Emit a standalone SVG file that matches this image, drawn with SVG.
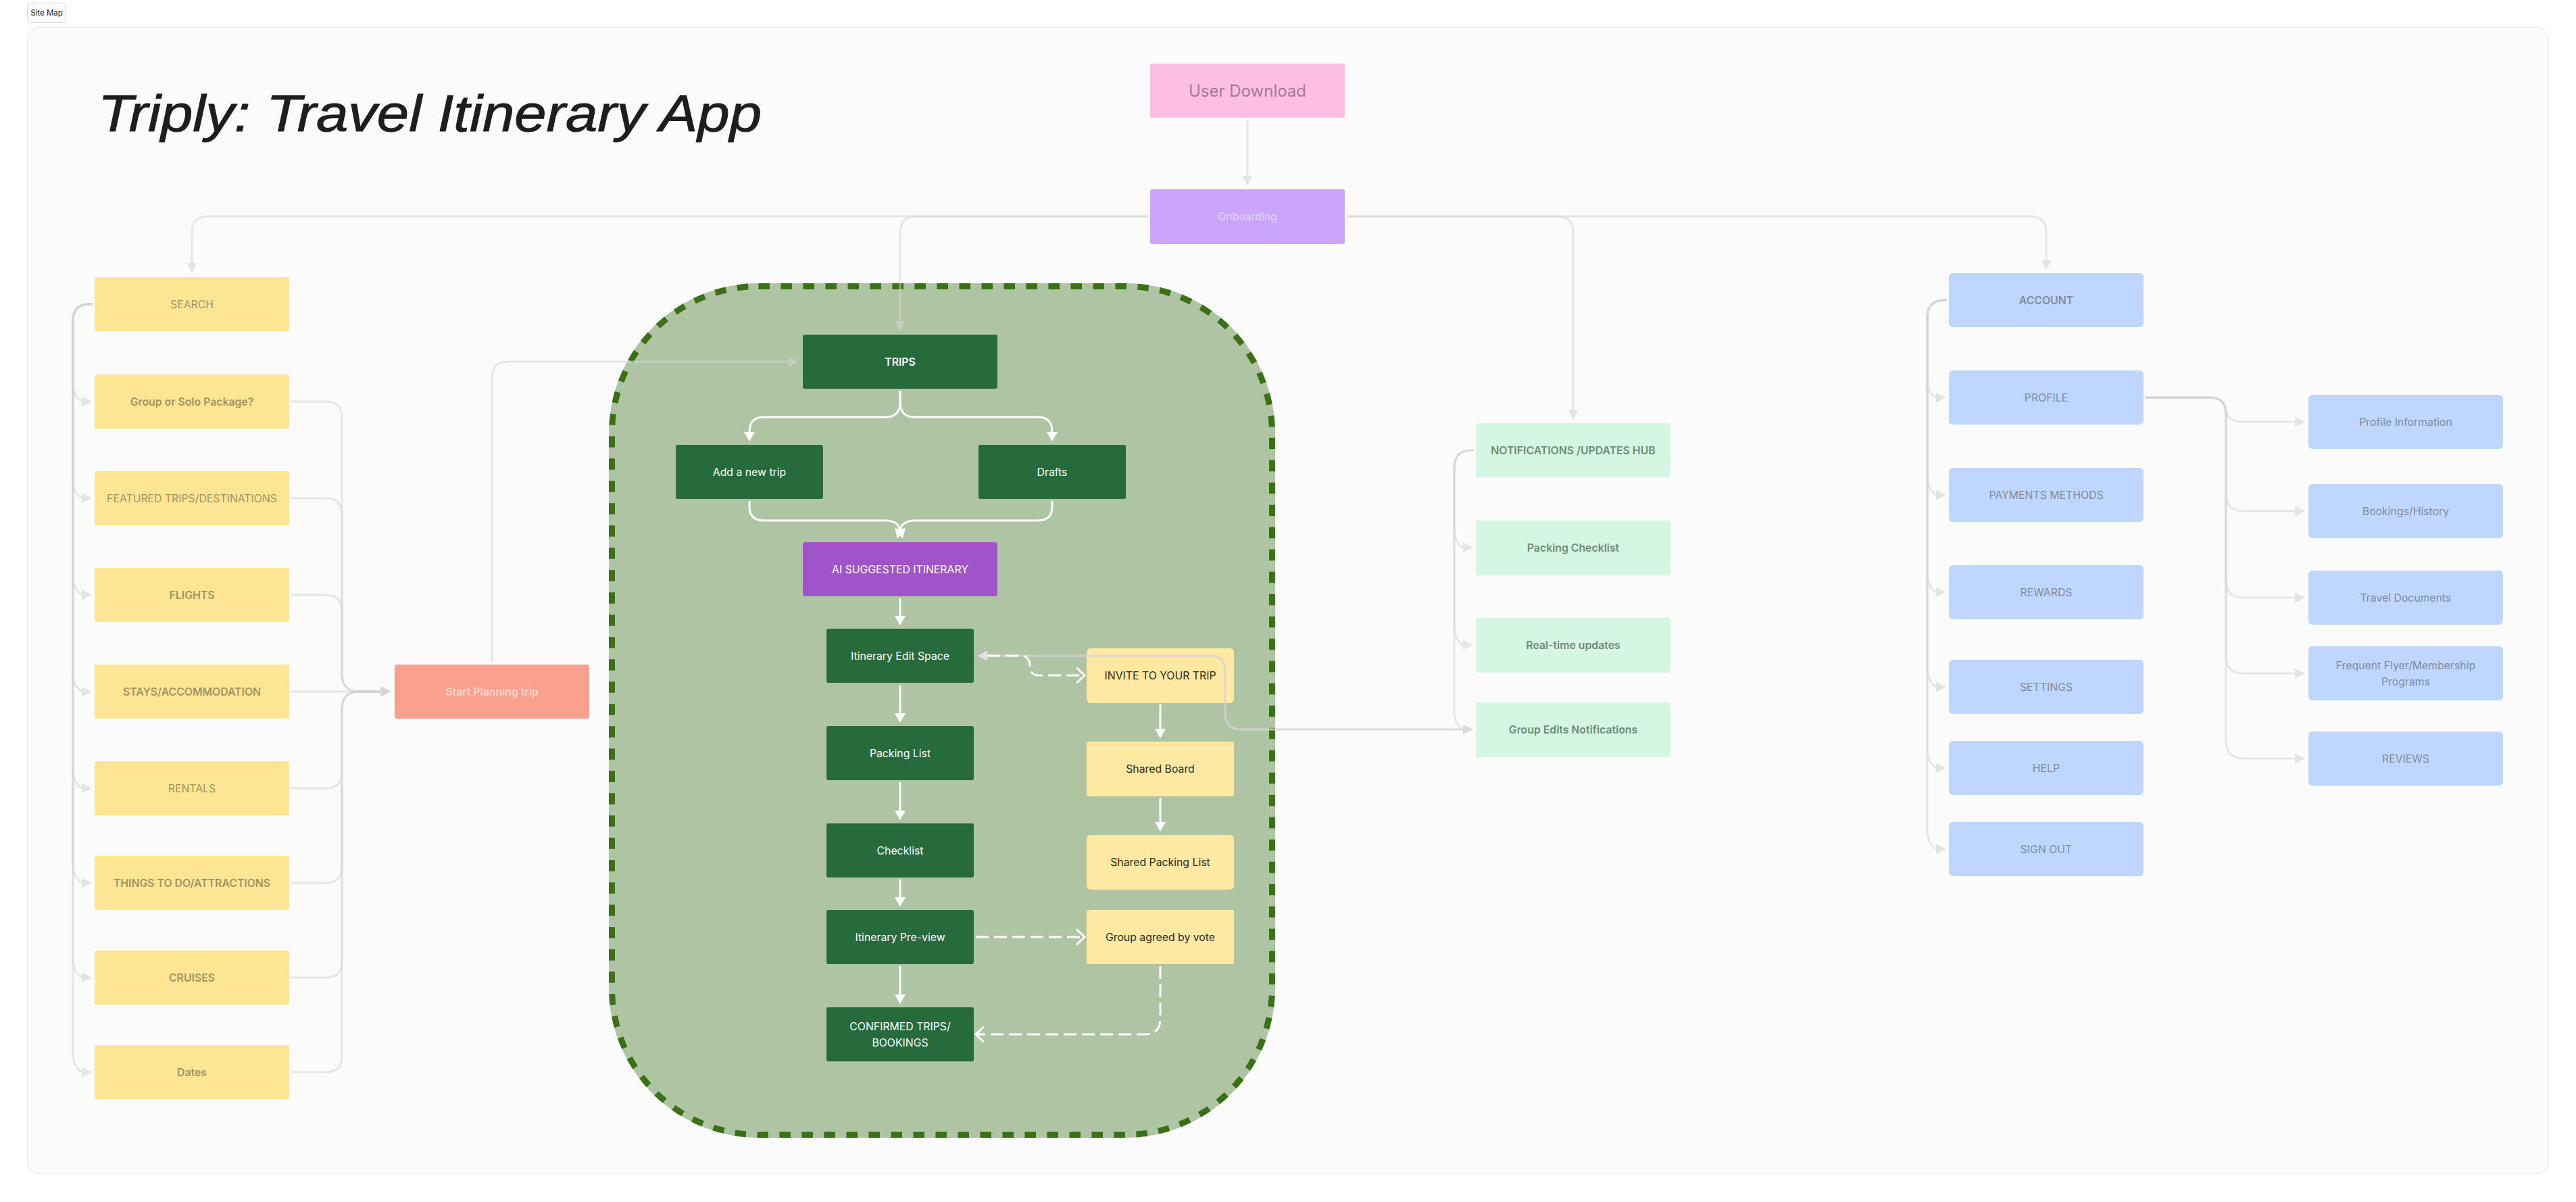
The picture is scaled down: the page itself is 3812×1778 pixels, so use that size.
<svg xmlns="http://www.w3.org/2000/svg" width="3812" height="1778" viewBox="0 0 3812 1778">
<style>
text{font-family:Inter,"Liberation Sans",sans-serif;font-size:15.8px;text-anchor:middle}
.s{font-weight:600}
.y rect{fill:#fde593}.y text{fill:#9f9562}
.b rect{fill:#bfd7fe}.b text{fill:#7f8b9d}
.m rect{fill:#d5f6e2}.m text{fill:#6f8a78}
.g rect{fill:#276a3c}.g text{fill:#fff}
.l rect{fill:#fee8a2}.l text{fill:#2b2b20}
.c path{fill:none}
.d{stroke:#d6d6d6;stroke-opacity:.55;stroke-width:3}
.w{stroke:#fff;stroke-width:3}
.h{stroke-dasharray:19 8}
</style>
<defs>
<marker id="ga" markerUnits="userSpaceOnUse" markerWidth="16" markerHeight="16" refX="0" refY="8" orient="auto"><path d="M0,0.5L15,8L0,15.5z" fill="#d6d6d6" fill-opacity=".6"/></marker>
<marker id="gr" markerUnits="userSpaceOnUse" markerWidth="16" markerHeight="16" refX="0" refY="8" orient="0"><path d="M0,0.5L15,8L0,15.5z" fill="#d6d6d6" fill-opacity=".6"/></marker>
<marker id="gl" markerUnits="userSpaceOnUse" markerWidth="16" markerHeight="16" refX="0" refY="8" orient="180"><path d="M0,0.5L15,8L0,15.5z" fill="#e2e2e2"/></marker>
<marker id="wa" markerUnits="userSpaceOnUse" markerWidth="16" markerHeight="18" refX="0" refY="9" orient="auto"><path d="M0,1L14,9L0,17z" fill="#fff"/></marker>
<marker id="wc" markerUnits="userSpaceOnUse" markerWidth="16" markerHeight="26" refX="13" refY="13" orient="auto"><path d="M2,2.5L13,13L2,23.5" fill="none" stroke="#fff" stroke-width="3" stroke-linecap="round"/></marker>
</defs>
<rect id="page" width="3812" height="1778" fill="#fff"/>
<rect id="frame" x="40.5" y="40.5" width="3731" height="1696" rx="18" fill="#fbfbfb" stroke="#e6e6e6"/>
<g id="site-map"><rect x="40.5" y="4.5" width="57" height="29" rx="4" fill="#fbfbfb" stroke="#d9d9d9"/><text x="69" y="23" style="font-size:11.5px" fill="#1e1e1e">Site Map</text></g>
<text id="title" x="145" y="194" textLength="982" lengthAdjust="spacingAndGlyphs" stroke="#1e1e1e" stroke-width="1" style="font-family:'Liberation Sans',sans-serif;font-size:76px;font-style:italic;text-anchor:start" fill="#1e1e1e">Triply: Travel Itinerary App</text>

<g id="trips-area"><rect x="901" y="419" width="986" height="1264" rx="222" fill="#afc4a2"/><rect x="905.5" y="423.5" width="977" height="1255" rx="217" fill="none" stroke="#3a7016" stroke-width="9" stroke-dasharray="16.5 16.5"/></g>

<g id="user-download"><rect x="1702" y="94" width="288" height="80" rx="3" fill="#fcbfe3"/><text x="1846" y="143" style="font-size:24px" fill="#a27a98">User Download</text></g>
<g id="onboarding"><rect x="1702" y="280" width="288" height="81" rx="3" fill="#cba4fb"/><text x="1846" y="326" fill="#e6d5fb">Onboarding</text></g>
<g id="start-planning"><rect x="584" y="983" width="288" height="80" rx="3" fill="#f9a18e"/><text x="728" y="1029" class="s" fill="#fcd6cd">Start Planning trip</text></g>

<g class="y">
<g id="search"><rect x="140" y="410" width="288" height="80" rx="3"/><text x="284" y="456">SEARCH</text></g>
<g id="group-solo"><rect x="140" y="554" width="288" height="80" rx="3"/><text x="284" y="600" class="s">Group or Solo Package?</text></g>
<g id="featured"><rect x="140" y="697" width="288" height="80" rx="3"/><text x="284" y="743">FEATURED TRIPS/DESTINATIONS</text></g>
<g id="flights"><rect x="140" y="840" width="288" height="80" rx="3"/><text x="284" y="886" class="s">FLIGHTS</text></g>
<g id="stays"><rect x="140" y="983" width="288" height="80" rx="3"/><text x="284" y="1029" class="s">STAYS/ACCOMMODATION</text></g>
<g id="rentals"><rect x="140" y="1126" width="288" height="80" rx="3"/><text x="284" y="1172">RENTALS</text></g>
<g id="things"><rect x="140" y="1266" width="288" height="80" rx="3"/><text x="284" y="1312" class="s">THINGS TO DO/ATTRACTIONS</text></g>
<g id="cruises"><rect x="140" y="1406" width="288" height="80" rx="3"/><text x="284" y="1452" class="s">CRUISES</text></g>
<g id="dates"><rect x="140" y="1546" width="288" height="80" rx="3"/><text x="284" y="1592" class="s">Dates</text></g>
</g>

<g class="g">
<g id="trips"><rect x="1188" y="495" width="288" height="80" rx="3"/><text x="1332" y="541" class="s">TRIPS</text></g>
<g id="add-trip"><rect x="1000" y="658" width="218" height="80" rx="3"/><text x="1109" y="704">Add a new trip</text></g>
<g id="drafts"><rect x="1448" y="658" width="218" height="80" rx="3"/><text x="1557" y="704">Drafts</text></g>
<g id="ai"><rect x="1188" y="802" width="288" height="80" rx="4" style="fill:#a054c9"/><text x="1332" y="848">AI SUGGESTED ITINERARY</text></g>
<g id="edit-space"><rect x="1223" y="930" width="218" height="80" rx="3"/><text x="1332" y="976">Itinerary Edit Space</text></g>
<g id="packing-list"><rect x="1223" y="1074" width="218" height="80" rx="3"/><text x="1332" y="1120">Packing List</text></g>
<g id="checklist"><rect x="1223" y="1218" width="218" height="80" rx="3"/><text x="1332" y="1264">Checklist</text></g>
<g id="preview"><rect x="1223" y="1346" width="218" height="80" rx="3"/><text x="1332" y="1392">Itinerary Pre-view</text></g>
<g id="confirmed"><rect x="1223" y="1490" width="218" height="80" rx="3"/><text x="1332" y="1524">CONFIRMED TRIPS/</text><text x="1332" y="1548">BOOKINGS</text></g>
</g>

<g class="l">
<g id="invite"><rect x="1608" y="959" width="218" height="81" rx="6"/><text x="1717" y="1005">INVITE TO YOUR TRIP</text></g>
<g id="shared-board"><rect x="1608" y="1097" width="218" height="81" rx="3"/><text x="1717" y="1143">Shared Board</text></g>
<g id="shared-packing"><rect x="1608" y="1235" width="218" height="81" rx="6"/><text x="1717" y="1281">Shared Packing List</text></g>
<g id="group-vote"><rect x="1608" y="1346" width="218" height="80" rx="3"/><text x="1717" y="1392">Group agreed by vote</text></g>
</g>

<g class="m">
<g id="notifications"><rect x="2184" y="626" width="288" height="80" rx="3"/><text x="2328" y="672" class="s">NOTIFICATIONS /UPDATES HUB</text></g>
<g id="packing-checklist"><rect x="2184" y="770" width="288" height="81" rx="3"/><text x="2328" y="816" class="s">Packing Checklist</text></g>
<g id="realtime"><rect x="2184" y="914" width="288" height="81" rx="3"/><text x="2328" y="960" class="s">Real-time updates</text></g>
<g id="group-edits"><rect x="2184" y="1039" width="288" height="81" rx="3"/><text x="2328" y="1085" class="s">Group Edits Notifications</text></g>
</g>

<g class="b">
<g id="account"><rect x="2884" y="404" width="288" height="80" rx="6"/><text x="3028" y="450" class="s">ACCOUNT</text></g>
<g id="profile"><rect x="2884" y="548" width="288" height="80" rx="6"/><text x="3028" y="594">PROFILE</text></g>
<g id="payments"><rect x="2884" y="692" width="288" height="80" rx="6"/><text x="3028" y="738">PAYMENTS METHODS</text></g>
<g id="rewards"><rect x="2884" y="836" width="288" height="80" rx="6"/><text x="3028" y="882">REWARDS</text></g>
<g id="settings"><rect x="2884" y="976" width="288" height="80" rx="6"/><text x="3028" y="1022">SETTINGS</text></g>
<g id="help"><rect x="2884" y="1096" width="288" height="80" rx="6"/><text x="3028" y="1142">HELP</text></g>
<g id="sign-out"><rect x="2884" y="1216" width="288" height="80" rx="6"/><text x="3028" y="1262">SIGN OUT</text></g>
<g id="profile-info"><rect x="3416" y="584" width="288" height="80" rx="6"/><text x="3560" y="630">Profile Information</text></g>
<g id="bookings"><rect x="3416" y="716" width="288" height="80" rx="6"/><text x="3560" y="762">Bookings/History</text></g>
<g id="travel-docs"><rect x="3416" y="844" width="288" height="80" rx="6"/><text x="3560" y="890">Travel Documents</text></g>
<g id="frequent"><rect x="3416" y="956" width="288" height="80" rx="6"/><text x="3560" y="990">Frequent Flyer/Membership</text><text x="3560" y="1014">Programs</text></g>
<g id="reviews"><rect x="3416" y="1082" width="288" height="80" rx="6"/><text x="3560" y="1128">REVIEWS</text></g>
</g>

<g id="connectors" class="c">
<g class="d">
<path d="M1846,177V260" marker-end="url(#ga)"/>
<path d="M1700,320H308Q284,320 284,344V389" marker-end="url(#ga)"/>
<path d="M1700,320H1356Q1332,320 1332,344V475" marker-end="url(#ga)"/>
<path d="M1993,320H2304Q2328,320 2328,344V606" marker-end="url(#ga)"/>
<path d="M1993,320H3004Q3028,320 3028,344V385" marker-end="url(#ga)"/>
<path d="M728,979V559Q728,535 752,535H1167" marker-end="url(#gr)"/>

<path d="M137,450H132Q108,450 108,474V564C108,580 112,588 121,594" marker-end="url(#gr)"/>
<path d="M137,450H132Q108,450 108,474V707C108,723 112,731 121,737" marker-end="url(#gr)"/>
<path d="M137,450H132Q108,450 108,474V850C108,866 112,874 121,880" marker-end="url(#gr)"/>
<path d="M137,450H132Q108,450 108,474V993C108,1009 112,1017 121,1023" marker-end="url(#gr)"/>
<path d="M137,450H132Q108,450 108,474V1136C108,1152 112,1160 121,1166" marker-end="url(#gr)"/>
<path d="M137,450H132Q108,450 108,474V1276C108,1292 112,1300 121,1306" marker-end="url(#gr)"/>
<path d="M137,450H132Q108,450 108,474V1416C108,1432 112,1440 121,1446" marker-end="url(#gr)"/>
<path d="M137,450H132Q108,450 108,474V1556C108,1572 112,1580 121,1586" marker-end="url(#gr)"/>

<path d="M431,594H482Q506,594 506,618V997Q506,1023 532,1023H563" marker-end="url(#gr)"/>
<path d="M431,737H482Q506,737 506,761V997Q506,1023 532,1023H563" marker-end="url(#gr)"/>
<path d="M431,880H482Q506,880 506,904V997Q506,1023 532,1023H563" marker-end="url(#gr)"/>
<path d="M431,1023H563" marker-end="url(#gr)"/>
<path d="M431,1166H482Q506,1166 506,1142V1049Q506,1023 532,1023H563" marker-end="url(#gr)"/>
<path d="M431,1306H482Q506,1306 506,1282V1049Q506,1023 532,1023H563" marker-end="url(#gr)"/>
<path d="M431,1446H482Q506,1446 506,1422V1049Q506,1023 532,1023H563" marker-end="url(#gr)"/>
<path d="M431,1586H482Q506,1586 506,1562V1049Q506,1023 532,1023H563" marker-end="url(#gr)"/>

<path d="M2181,666H2178Q2152,666 2152,692V780C2152,796 2156,804 2165,810" marker-end="url(#gr)"/>
<path d="M2181,666H2178Q2152,666 2152,692V924C2152,940 2156,948 2165,954" marker-end="url(#gr)"/>
<path d="M2181,666H2178Q2152,666 2152,692V1049C2152,1065 2156,1073 2165,1079" marker-end="url(#gr)"/>
<path d="M1461,970H1790Q1813,970 1813,993V1055Q1813,1079 1837,1079H2165" marker-start="url(#gl)" marker-end="url(#gr)"/>
<path d="M1461,970H1790Q1813,970 1813,993V1055Q1813,1079 1837,1079H2165"/>

<path d="M2881,444H2878Q2852,444 2852,470V558C2852,574 2856,582 2865,588" marker-end="url(#gr)"/>
<path d="M2881,444H2878Q2852,444 2852,470V702C2852,718 2856,726 2865,732" marker-end="url(#gr)"/>
<path d="M2881,444H2878Q2852,444 2852,470V846C2852,862 2856,870 2865,876" marker-end="url(#gr)"/>
<path d="M2881,444H2878Q2852,444 2852,470V986C2852,1002 2856,1010 2865,1016" marker-end="url(#gr)"/>
<path d="M2881,444H2878Q2852,444 2852,470V1106C2852,1122 2856,1130 2865,1136" marker-end="url(#gr)"/>
<path d="M2881,444H2878Q2852,444 2852,470V1226C2852,1242 2856,1250 2865,1256" marker-end="url(#gr)"/>

<path d="M3174,588H3270Q3292,588 3294,608Q3298,624 3318,624H3396" marker-end="url(#gr)"/>
<path d="M3174,588H3270Q3294,588 3294,612V730Q3294,756 3320,756H3396" marker-end="url(#gr)"/>
<path d="M3174,588H3270Q3294,588 3294,612V858Q3294,884 3320,884H3396" marker-end="url(#gr)"/>
<path d="M3174,588H3270Q3294,588 3294,612V970Q3294,996 3320,996H3396" marker-end="url(#gr)"/>
<path d="M3174,588H3270Q3294,588 3294,612V1096Q3294,1122 3320,1122H3396" marker-end="url(#gr)"/>
</g>
<g class="w">
<path d="M1332,578V595Q1332,617 1310,617H1130Q1109,617 1109,639" marker-end="url(#wa)"/>
<path d="M1332,578V595Q1332,617 1354,617H1536Q1557,617 1557,639" marker-end="url(#wa)"/>
<path d="M1109,741V749Q1109,770 1130,770H1310Q1328,770 1332,783" marker-end="url(#wa)"/>
<path d="M1557,741V749Q1557,770 1536,770H1354Q1336,770 1332,783" marker-end="url(#wa)"/>
<path d="M1332,885V911" marker-end="url(#wa)"/>
<path d="M1332,1014V1055" marker-end="url(#wa)"/>
<path d="M1332,1157V1199" marker-end="url(#wa)"/>
<path d="M1332,1301V1327" marker-end="url(#wa)"/>
<path d="M1332,1429V1471" marker-end="url(#wa)"/>
<path d="M1717,1042V1078" marker-end="url(#wa)"/>
<path d="M1717,1180V1216" marker-end="url(#wa)"/>
<path class="h" d="M1461,970H1510Q1524,970 1524,985Q1524,999 1538,999H1605" marker-end="url(#wc)"/>
<path class="h" d="M1444,1386H1605" marker-end="url(#wc)"/>
<path class="h" d="M1717,1429V1507Q1717,1530 1694,1530H1444" marker-end="url(#wc)"/>
</g>
</g>
</svg>
